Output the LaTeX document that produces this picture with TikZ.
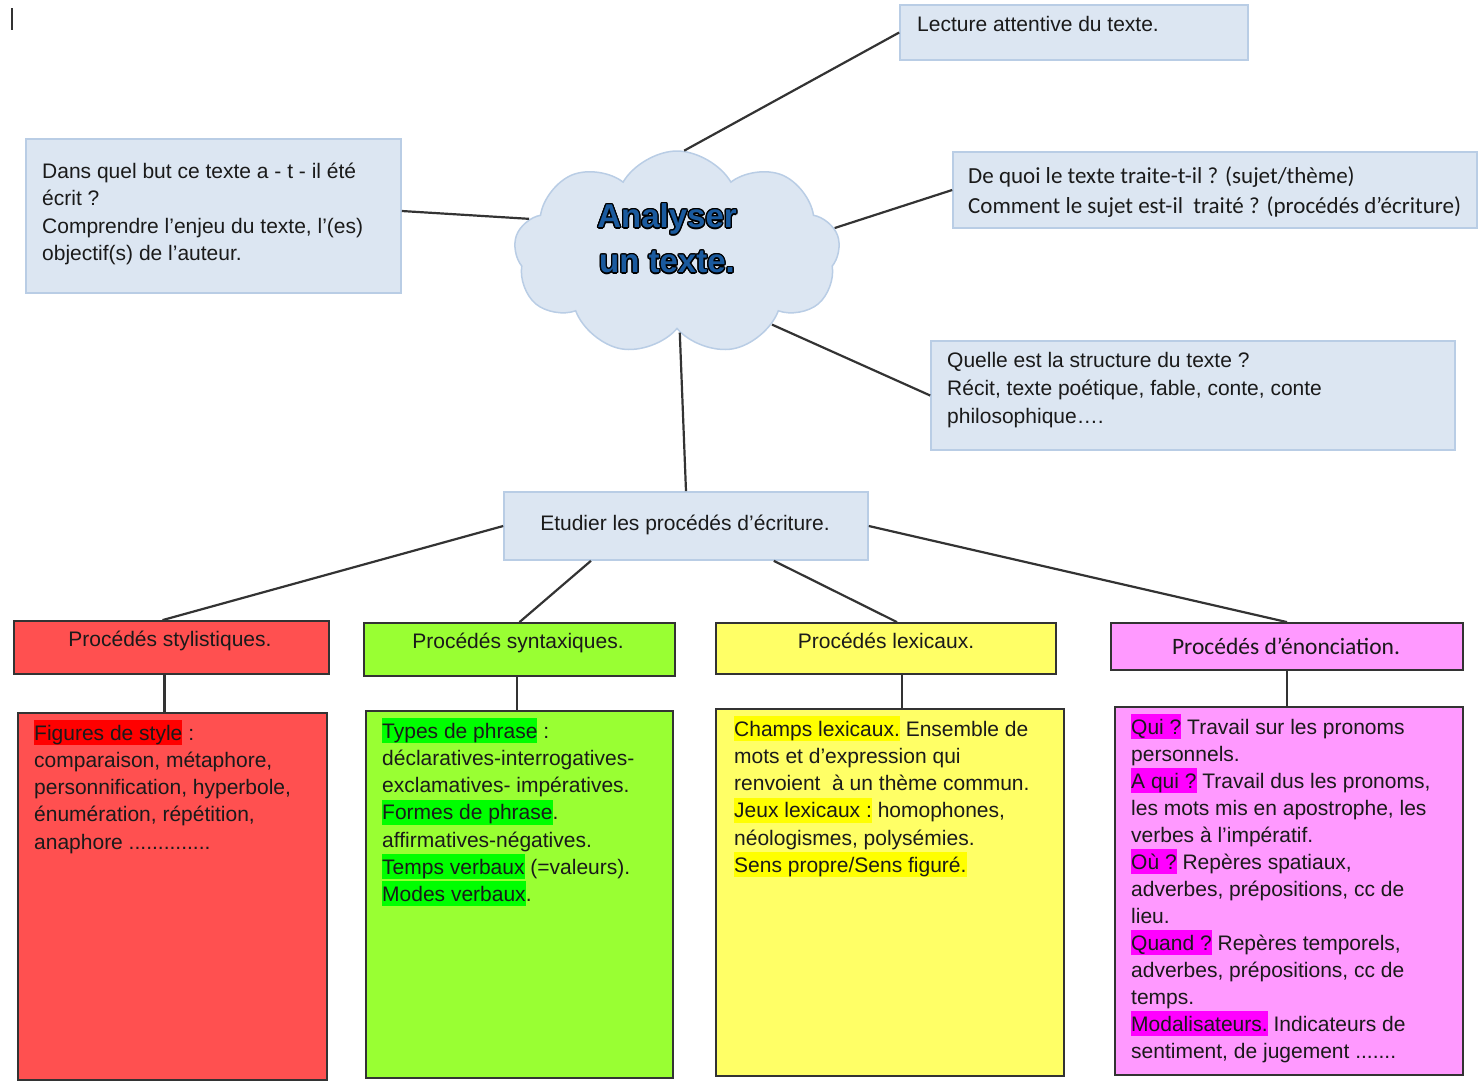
\documentclass[tikz,border=0pt]{standalone}
\usepackage{fontspec}
\setmainfont{Liberation Sans}
\newfontfamily\calib{Carlito}
\usepackage{contour}
\usetikzlibrary{shapes.symbols,calc}
\definecolor{lightblue}{HTML}{DCE6F2}
\definecolor{bordblue}{HTML}{B9CDE5}
\definecolor{linegray}{HTML}{333333}
\definecolor{txtcol}{HTML}{1A1A1A}
\definecolor{redbox}{HTML}{FF5050}
\definecolor{greenbox}{HTML}{99FF33}
\definecolor{yellowbox}{HTML}{FFFF66}
\definecolor{pinkbox}{HTML}{FF99FF}
\definecolor{hlred}{HTML}{FF0000}
\definecolor{hlgreen}{HTML}{00FF00}
\definecolor{hlyellow}{HTML}{FFFF00}
\definecolor{hlpink}{HTML}{FF00FF}
\definecolor{titleblue}{HTML}{1A5A9E}
\newcommand\hlt[2]{{\setlength{\fboxsep}{0pt}\colorbox{#1}{\rule[-5pt]{0pt}{25pt}#2}}}
\contourlength{1.3pt}
\begin{document}
\begin{tikzpicture}[x=1pt,y=-1pt,
  conn/.style={draw=linegray, line width=2.2pt},
  bluebox/.style={draw=bordblue, fill=lightblue, line width=1.6pt, inner sep=0pt},
  colbox/.style={draw=linegray, line width=1.8pt, inner sep=0pt, fill=#1},
  txt/.style={anchor=north west, inner sep=0pt, align=left, text=txtcol,
    font=\fontsize{21}{27.2}\selectfont, execute at begin node=\strut},
  hdr/.style={anchor=north, inner sep=0pt, text=txtcol,
    font=\fontsize{21}{27.2}\selectfont, execute at begin node=\strut}
]
\useasboundingbox (0,0) rectangle (1478,1085);
% cursor mark
\draw[line width=2pt, draw=linegray] (12,8) -- (12,30);

% cloud
\node[cloud, cloud puffs=9, cloud puff arc=120, aspect=1.6, draw=bordblue,
  fill=lightblue, line width=1.5pt, minimum width=326pt, minimum height=204pt,
  inner sep=0pt] (cloud) at (677,253) {};
\node[anchor=north, inner sep=0pt, align=center, text=titleblue,
  font=\fontsize{33}{45}\selectfont\bfseries] (title) at (667,196)
  {\strut\contour{black}{Analyser}\\\contour{black}{un texte.}};

% light blue boxes
\node[bluebox, minimum width=348pt, minimum height=55pt] (lect) at (1074,32.5) {};
\node[txt] (lectt) at (917,12) {Lecture attentive du texte.};

\node[bluebox, minimum width=375pt, minimum height=154pt] (dans) at (213.5,216) {};
\node[txt, font=\fontsize{21}{27.3}\selectfont] (danst) at (42,163)
  {Dans quel but ce texte a - t - il été\\écrit ?\\Comprendre l’enjeu du texte, l’(es)\\objectif(s) de l’auteur.};

\node[bluebox, minimum width=524pt, minimum height=76pt] (dequoi) at (1215,190) {};
\node[txt, font=\calib\fontsize{23}{30}\selectfont] (dequoit) at (968,166)
  {De quoi le texte traite-t-il ? (sujet/thème)\\Comment le sujet est-il\ \ traité ? (procédés d’écriture)};

\node[bluebox, minimum width=524pt, minimum height=109pt] (quelle) at (1193,395.5) {};
\node[txt, font=\fontsize{21}{28}\selectfont] (quellet) at (947,352)
  {Quelle est la structure du texte ?\\Récit, texte poétique, fable, conte, conte\\philosophique….};

\node[bluebox, minimum width=364pt, minimum height=68pt] (etud) at (686,526) {};
\node[hdr] (etudt) at (685,511) {Etudier les procédés d’écriture.};

% headers
\node[colbox=redbox, minimum width=315pt, minimum height=53pt] (h1) at (171.5,647.5) {};
\node[hdr] (h1t) at (170,627) {Procédés stylistiques.};
\node[colbox=greenbox, minimum width=311pt, minimum height=53pt] (h2) at (519.5,649.5) {};
\node[hdr] (h2t) at (518,629) {Procédés syntaxiques.};
\node[colbox=yellowbox, minimum width=340pt, minimum height=51pt] (h3) at (886,648.5) {};
\node[hdr] (h3t) at (886,629) {Procédés lexicaux.};
\node[colbox=pinkbox, minimum width=352pt, minimum height=47pt] (h4) at (1287,646.5) {};
\node[hdr, font=\calib\fontsize{23.5}{27.2}\selectfont] (h4t) at (1286,635) {Procédés d’énonciation.};

% bodies
\node[colbox=redbox, minimum width=309pt, minimum height=367pt] (b1) at (172.5,896.5) {};
\node[txt] (b1t) at (34,720)
  {\hlt{hlred}{Figures de style} :\\comparaison, métaphore,\\personnification, hyperbole,\\énumération, répétition,\\anaphore ..............};

\node[colbox=greenbox, minimum width=307pt, minimum height=367pt] (b2) at (519.5,894.5) {};
\node[txt] (b2t) at (382,718)
  {\hlt{hlgreen}{Types de phrase} :\\déclaratives-interrogatives-\\exclamatives- impératives.\\\hlt{hlgreen}{Formes de phrase}.\\affirmatives-négatives.\\\hlt{hlgreen}{Temps verbaux} (=valeurs).\\\hlt{hlgreen}{Modes verbaux}.};

\node[colbox=yellowbox, minimum width=348pt, minimum height=367pt] (b3) at (890,892.5) {};
\node[txt] (b3t) at (734,716)
  {\hlt{hlyellow}{Champs lexicaux.} Ensemble de\\mots et d’expression qui\\renvoient\ \ à un thème commun.\\\hlt{hlyellow}{Jeux lexicaux :} homophones,\\néologismes, polysémies.\\\hlt{hlyellow}{Sens propre/Sens figuré.}};

\node[colbox=pinkbox, minimum width=348pt, minimum height=368pt] (b4) at (1289,891) {};
\node[txt, font=\fontsize{21}{27}\selectfont] (b4t) at (1131,714)
  {\hlt{hlpink}{Qui ?} Travail sur les pronoms\\personnels.\\\hlt{hlpink}{A qui ?} Travail dus les pronoms,\\les mots mis en apostrophe, les\\verbes à l’impératif.\\\hlt{hlpink}{Où ?} Repères spatiaux,\\adverbes, prépositions, cc de\\lieu.\\\hlt{hlpink}{Quand ?} Repères temporels,\\adverbes, prépositions, cc de\\temps.\\\hlt{hlpink}{Modalisateurs.} Indicateurs de\\sentiment, de jugement .......};

% connectors
\draw[conn] (cloud.86) -- (lect.west);
\draw[conn] ([yshift=5pt]dans.east) -- (cloud.167);
\draw[conn] (cloud.9) -- (dequoi.west);
\draw[conn] (cloud.-37) -- (quelle.west);
\draw[conn] (cloud.-88) -- (etud.north);
\draw[conn] (etud.west) -- ([xshift=-9pt]h1.north);
\draw[conn] ($(etud.south west)!0.24!(etud.south east)$) -- (h2.north);
\draw[conn] ($(etud.south west)!0.74!(etud.south east)$) -- ([xshift=11pt]h3.north);
\draw[conn] (etud.east) -- (h4.north);
\draw[conn] ([xshift=-7pt]h1.south) -- ([xshift=-7pt]h1.south |- b1.north);
\draw[conn] ([xshift=-2.5pt]h2.south) -- ([xshift=-2.5pt]h2.south |- b2.north);
\draw[conn] ([xshift=16pt]h3.south) -- ([xshift=16pt]h3.south |- b3.north);
\draw[conn] (h4.south) -- (h4.south |- b4.north);
\end{tikzpicture}
\end{document}
